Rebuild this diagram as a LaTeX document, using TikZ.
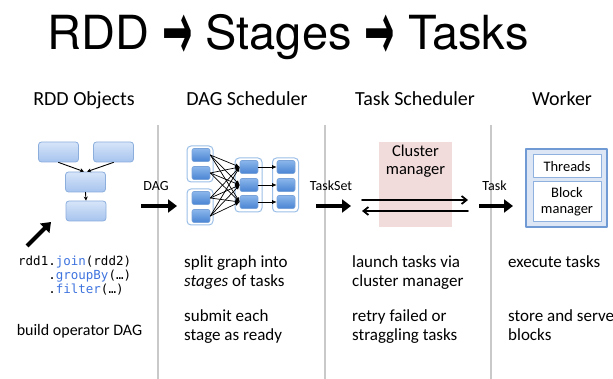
\documentclass[tikz,border=0pt]{standalone}
\usepackage{fontspec}
\usepackage{graphicx}
\setmainfont{Carlito}
\setmonofont{DejaVu Sans Mono}
\newfontfamily\titlefont{TeX Gyre Heros}
\newfontfamily\arrowfont{DejaVu Sans}
\newcommand\titlearrow{{\arrowfont\bfseries\fontsize{55}{55}\selectfont
  \raisebox{-10pt}{\scalebox{0.66}[1.5]{→}}}}
\usetikzlibrary{arrows.meta}
\definecolor{codeblue}{HTML}{3F74DE}
\definecolor{sepgray}{HTML}{C9C9C9}
\definecolor{rddtop}{HTML}{D7E5F9}
\definecolor{rddbot}{HTML}{A6C3EE}
\definecolor{rddline}{HTML}{8BAEDD}
\definecolor{tasktop}{HTML}{8AB6EB}
\definecolor{taskbot}{HTML}{4A84D3}
\definecolor{taskline}{HTML}{7AA3DA}
\definecolor{stageline}{HTML}{9CBFE8}
\definecolor{clusterpink}{HTML}{F2DCDB}
\definecolor{workerfill}{HTML}{DCE6F4}
\definecolor{workerline}{HTML}{6F9AD3}
\definecolor{innerline}{HTML}{8EB1E0}
\begin{document}
\begin{tikzpicture}[x=1pt,y=-1pt,line cap=round,line join=round,
  rddbox/.style={draw=rddline,line width=.8pt,rounded corners=3pt,
    top color=rddtop,bottom color=rddbot,minimum width=40pt,
    minimum height=20pt,inner sep=0pt},
  taskbox/.style={draw=taskline,line width=.6pt,rounded corners=2pt,
    top color=tasktop,bottom color=taskbot,minimum width=18pt,
    minimum height=13pt,inner sep=0pt},
  stagebox/.style={draw=stageline,line width=1pt,rounded corners=4pt,
    fill=white,inner sep=0pt},
  rddarrow/.style={line width=.9pt,-{Stealth[length=4pt,width=4pt]}},
  dagarrow/.style={line width=.7pt,-{Latex[length=4.5pt,width=4pt]}},
  bigarrow/.style={line width=4pt,line cap=butt,
    -{Triangle[length=9pt,width=13pt]}},
  msgarrow/.style={line width=1.8pt,-{Straight Barb[length=5pt,width=8pt]}},
  sep/.style={draw=sepgray,line width=1.8pt,line cap=butt},
  heading/.style={font=\fontsize{20}{24}\selectfont,anchor=base},
  arrowlabel/.style={font=\fontsize{14}{16}\selectfont,anchor=base},
  note/.style={font=\fontsize{17}{19.5}\selectfont,align=left,
    anchor=north west,inner sep=0pt}]
\useasboundingbox (0,0) rectangle (613,379);

% title
\node[anchor=base,font=\titlefont\fontsize{47}{50}\selectfont] (title) at (288,50)
  {RDD \titlearrow{} Stages \titlearrow{} Tasks};

% column separators
\draw[sep] (158,125) -- (158,379);
\draw[sep] (325,125) -- (325,379);
\draw[sep] (491,125) -- (491,379);

% headings
\node[heading] (hrdd) at (84,106) {RDD Objects};
\node[heading] (hdag) at (247,106) {DAG Scheduler};
\node[heading] (hts) at (415,106) {Task Scheduler};
\node[heading] (hwk) at (562,106) {Worker};

% RDD objects
\node[rddbox] (r1) at (58.5,152) {};
\node[rddbox] (r2) at (113.5,152) {};
\node[rddbox] (r3) at (85.5,182) {};
\node[rddbox] (r4) at (86,211) {};
\draw[rddarrow] (r1.south) -- ([xshift=-1.5pt]r3.north);
\draw[rddarrow] (r2.south) -- ([xshift=1.5pt]r3.north);
\draw[rddarrow] (r3.south) -- (r4.north);

\coordinate (codetail) at (27,246);
\coordinate (codetip) at (51,222);
\draw[bigarrow] (codetail) -- (codetip);
\node[anchor=north west,inner sep=0pt,align=left,
  font=\ttfamily\fontsize{12.5}{14}\selectfont] (code) at (18,256)
  {rdd1.\textcolor{codeblue}{join}(rdd2)\\
   \phantom{rdd1}.\textcolor{codeblue}{groupBy}(…)\\
   \phantom{rdd1}.\textcolor{codeblue}{filter}(…)};
\node[anchor=base,font=\fontsize{16}{19}\selectfont] (build) at (79.5,335)
  {build operator DAG};

% DAG arrow
\coordinate (dagfrom) at (141,206);
\coordinate (dagto) at (177,206);
\draw[bigarrow] (dagfrom) -- (dagto);
\node[arrowlabel] (daglbl) at (156,191) {DAG};

% DAG scheduler
\node[stagebox,minimum width=26pt,minimum height=36pt] (sa) at (200,164) {};
\node[stagebox,minimum width=26pt,minimum height=36pt] (sb) at (200,207) {};
\node[stagebox,minimum width=27pt,minimum height=54pt] (sm) at (248.5,185) {};
\node[stagebox,minimum width=26pt,minimum height=54pt] (sp) at (285.5,185) {};
\node[taskbox] (a1) at (201,155) {};
\node[taskbox] (a2) at (201,173) {};
\node[taskbox] (a3) at (201,198) {};
\node[taskbox] (a4) at (201,216) {};
\foreach \j/\y in {1/167,2/185,3/202} {
  \node[taskbox] (m\j) at (249,\y) {};
  \node[taskbox] (p\j) at (286,\y) {};
}
\foreach \i in {1,...,4}
  \foreach \j in {1,2,3}
    \draw[dagarrow] (a\i.east) -- (m\j.west);
\foreach \j in {1,2,3}
  \draw[dagarrow] (m\j.east) -- (p\j.west);

% TaskSet arrow
\coordinate (tsfrom) at (316,206);
\coordinate (tsto) at (351,206);
\draw[bigarrow] (tsfrom) -- (tsto);
\node[arrowlabel] (tslbl) at (331,191) {TaskSet};

% task scheduler
\node[fill=clusterpink,minimum width=73pt,minimum height=85pt,inner sep=0pt]
  (cm) at (415.5,184.5) {};
\node[anchor=north,align=center,inner sep=0pt,
  font=\fontsize{16.5}{18}\selectfont] (cmlbl) at (415.5,145) {Cluster\\manager};
\coordinate (launchL) at (362,200);
\coordinate (launchR) at (468,200);
\coordinate (backR) at (468,211);
\coordinate (backL) at (362,211);
\draw[msgarrow] (launchL) -- (launchR);
\draw[msgarrow] (backR) -- (backL);

% Task arrow
\coordinate (tkfrom) at (479,206);
\coordinate (tkto) at (513,206);
\draw[bigarrow] (tkfrom) -- (tkto);
\node[arrowlabel] (tklbl) at (494.5,191) {Task};

% worker
\node[draw=workerline,fill=workerfill,line width=1.6pt,minimum width=81pt,
  minimum height=78pt,inner sep=0pt] (wk) at (566.5,188) {};
\node[draw=innerline,fill=white,line width=1pt,minimum width=68pt,
  minimum height=23pt,inner sep=0pt,font=\fontsize{14.5}{16}\selectfont]
  (thr) at (567,166.5) {Threads};
\node[draw=innerline,fill=white,line width=1pt,minimum width=68pt,
  minimum height=40pt,inner sep=0pt,align=center,
  font=\fontsize{14.5}{16}\selectfont] (bm) at (567,202) {Block\\manager};

% descriptions
\node[note] (n1) at (184,255) {split graph into\\\textit{stages} of tasks};
\node[note] (n2) at (184,309) {submit each\\stage as ready};
\node[note] (n3) at (352,255) {launch tasks via\\cluster manager};
\node[note] (n4) at (352,309) {retry failed or\\straggling tasks};
\node[note] (n5) at (508,255) {execute tasks};
\node[note] (n6) at (508,309) {store and serve\\blocks};
\end{tikzpicture}
\end{document}
